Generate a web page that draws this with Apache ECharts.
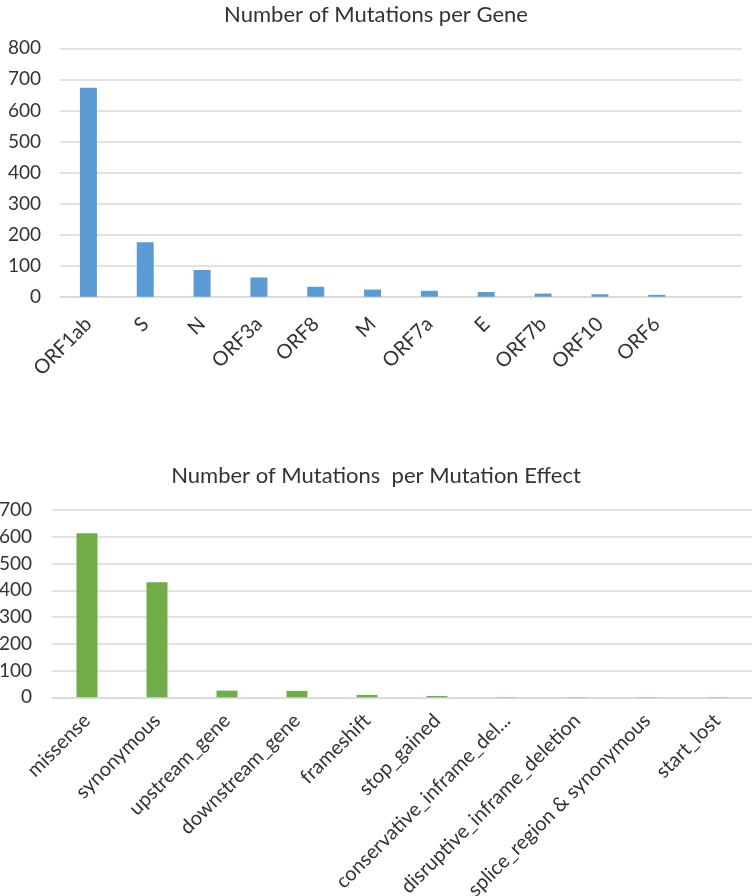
<!DOCTYPE html>
<html>
<head>
<meta charset="utf-8">
<script src="https://cdn.jsdelivr.net/npm/echarts@6/dist/echarts.min.js"></script>
<style>html,body{margin:0;padding:0;background:#fff}#c{width:752px;height:896px}</style>
</head>
<body>
<div id="c"></div>
<script>
const geneCategories = ['ORF1ab','S','N','ORF3a','ORF8','M','ORF7a','E','ORF7b','ORF10','ORF6',''];
const geneValues = [673, 175, 86, 62, 32, 23, 19, 15, 10, 8, 6];
const effectCategories = ['missense','synonymous','upstream_gene','downstream_gene','frameshift','stop_gained','conservative_inframe_del...','disruptive_inframe_deletion','splice_region & synonymous','start_lost'];
const effectValues = [613, 430, 25, 24, 9, 5, 1, 1, 1, 1];
const geneTicks = [0,100,200,300,400,500,600,700,800];
const effectTicks = [0,100,200,300,400,500,600,700];

const FONT = 'Lato';
const TXT = '#333333';
const GRID = '#d9d9d9';

const chart = echarts.init(document.getElementById('c'), null, {renderer:'canvas'});
chart.setOption({
  animation:false,
  backgroundColor:'#fff',
  title:[
    {text:'Number of Mutations per Gene', left:'center', top:-1,
     textStyle:{fontFamily:FONT, fontSize:22, fontWeight:'normal', color:TXT}},
    {text:'Number of Mutations  per Mutation Effect', left:'center', top:460,
     textStyle:{fontFamily:FONT, fontSize:22, fontWeight:'normal', color:TXT}}
  ],
  grid:[
    {left:60, right:10, top:48.3, height:248.4, containLabel:false, outerBoundsMode:'none'},
    {left:52, right:0, top:510, height:187.3, containLabel:false, outerBoundsMode:'none'}
  ],
  xAxis:[
    {type:'category', gridIndex:0, data:geneCategories,
     axisLine:{lineStyle:{color:GRID, width:1.5}}, axisTick:{show:false},
     axisLabel:{rotate:45, interval:0, margin:24, fontFamily:FONT, fontSize:20, color:TXT}},
    {type:'category', gridIndex:1, data:effectCategories,
     axisLine:{lineStyle:{color:GRID, width:1.5}}, axisTick:{show:false},
     axisLabel:{rotate:45, interval:0, margin:20, fontFamily:FONT, fontSize:20, color:TXT}}
  ],
  yAxis:[
    {type:'value', gridIndex:0, min:geneTicks[0], max:geneTicks[geneTicks.length-1], interval:100,
     axisLine:{show:false}, axisTick:{show:false},
     splitLine:{lineStyle:{color:GRID, width:1.5}},
     axisLabel:{margin:19, fontFamily:FONT, fontSize:19, color:TXT}},
    {type:'value', gridIndex:1, min:effectTicks[0], max:effectTicks[effectTicks.length-1], interval:100,
     axisLine:{show:false}, axisTick:{show:false},
     splitLine:{lineStyle:{color:GRID, width:1.5}},
     axisLabel:{margin:20, fontFamily:FONT, fontSize:19, color:TXT}}
  ],
  series:[
    {type:'bar', xAxisIndex:0, yAxisIndex:0, data:geneValues, barWidth:17,
     itemStyle:{color:'#5b9bd5'}},
    {type:'bar', xAxisIndex:1, yAxisIndex:1, data:effectValues, barWidth:21,
     itemStyle:{color:'#70ad47'}}
  ]
});
</script>
</body>
</html>
